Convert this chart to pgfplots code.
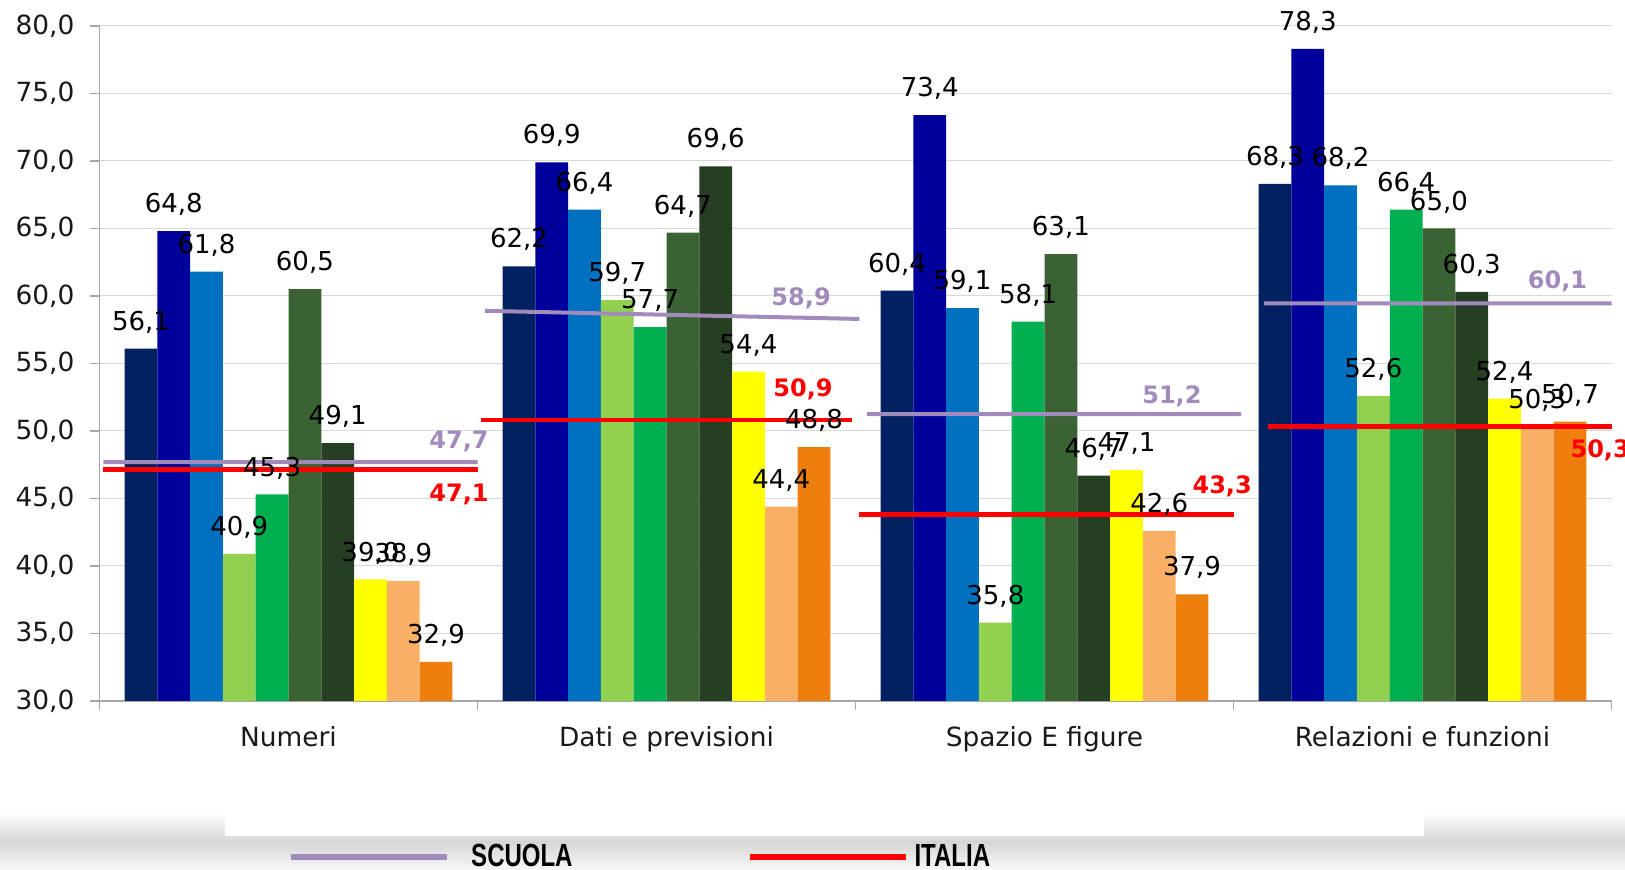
\documentclass[border=0pt]{standalone}
\usepackage{pgfplots}
\pgfplotsset{compat=1.18}
\usepackage{pgfplotstable}
\usepackage{fontspec}
\setmainfont{DejaVu Sans}
\newfontfamily\legfont[FakeStretch=0.75]{Liberation Sans}
\definecolor{c0}{HTML}{032060}
\definecolor{c1}{HTML}{00009A}
\definecolor{c2}{HTML}{0070C0}
\definecolor{c3}{HTML}{92D050}
\definecolor{c4}{HTML}{00B050}
\definecolor{c5}{HTML}{3B6232}
\definecolor{c6}{HTML}{263F22}
\definecolor{c7}{HTML}{FFFF00}
\definecolor{c8}{HTML}{F9B065}
\definecolor{c9}{HTML}{EE7E0E}
\definecolor{purp}{HTML}{A18BBC}
\definecolor{ired}{HTML}{FF0000}

\pgfplotstableread{
x c0 c1 c2 c3 c4 c5 c6 c7 c8 c9
0 56.1 64.8 61.8 40.9 45.3 60.5 49.1 39.0 38.9 32.9
1 62.2 69.9 66.4 59.7 57.7 64.7 69.6 54.4 44.4 48.8
2 60.4 73.4 59.1 35.8 58.1 63.1 46.7 47.1 42.6 37.9
3 68.3 78.3 68.2 52.6 66.4 65.0 60.3 52.4 50.3 50.7
}\bars

\pgfplotstableread{
x y
-0.49 47.7
0.50 47.7
0.51 nan
0.52 58.9
1.51 58.3
1.52 nan
1.53 51.25
2.52 51.25
2.55 nan
2.58 59.45
3.50 59.45
}\scuola

\pgfplotstableread{
x y
-0.49 47.15
0.50 47.15
0.505 nan
0.51 50.8
1.49 50.8
1.50 nan
1.51 43.8
2.50 43.8
2.55 nan
2.59 50.35
3.50 50.35
}\italia

\pgfplotstableread{
x y label
0.451 49.2 47,7
1.356 59.8 58,9
2.337 52.6 51,2
3.357 61.1 60,1
}\scuolalab

\pgfplotstableread{
x y label
0.451 45.3 47,1
1.361 53.1 50,9
2.470 45.9 43,3
3.470 48.6 50,3
}\italialab

\begin{document}
\begin{tikzpicture}
% slide background band
\shade[top color=white, bottom color=black!16] (-49.75pt,-70.5pt) rectangle (762.75pt,-55.5pt);
\shade[top color=black!16, bottom color=black!3] (-49.75pt,-84.5pt) rectangle (762.75pt,-70.5pt);
\fill[white] (62.75pt,-67.5pt) rectangle (662.25pt,-40pt);
\begin{axis}[
  at={(0pt,0pt)}, anchor=south west,
  scale only axis, width=756pt, height=337.5pt,
  xmin=-0.5, xmax=3.5, ymin=30, ymax=80,
  clip=false,
  unbounded coords=jump,
  axis x line*=bottom, axis y line*=left,
  axis line style={draw=black!35, line width=0.6pt, -},
  ytick={30,35,...,80},
  ymajorgrids, grid style={draw=black!15, line width=0.5pt},
  xtick={-0.5,0.5,1.5,2.5,3.5}, xticklabels={},
  extra x ticks={0,1,2,3},
  extra x tick labels={Numeri, Dati e previsioni, Spazio E figure, Relazioni e funzioni},
  extra x tick style={major tick length=0pt, tick label style={yshift=-9pt, font=\fontsize{13.2}{15}\selectfont}},
  tick align=outside, major tick length=4.5pt,
  tick style={draw=black!35, line width=0.6pt},
  ticklabel style={font=\fontsize{13.2}{15}\selectfont, text=black!90},
  yticklabel style={xshift=-4.5pt},
  /pgf/number format/fixed,
  /pgf/number format/fixed zerofill,
  /pgf/number format/precision=1,
  /pgf/number format/use comma,
  /pgf/number format/assume math mode=true,
  legend style={at={(0.1247,-0.231)}, anchor=west, draw=none, fill=none,
    legend columns=2, inner sep=0pt, nodes={inner sep=0pt},
    font=\legfont\bfseries\fontsize{16}{16}\selectfont,
    /tikz/every odd column/.append style={column sep=3pt},
    /tikz/every even column/.append style={column sep=87pt}},
  legend image code/.code={\draw[#1, line width=3pt] (0pt,0pt) -- (78pt,0pt);},
  barlab/.style={only marks, mark=none, forget plot,
    nodes near coords={\pgfmathprintnumber{\pgfplotspointmeta}},
    every node near coord/.append style={text=black, anchor=south, inner sep=0pt, yshift=7.5pt,
      font=\fontsize{13}{15}\selectfont}},
]
% bars
\addplot[ybar, bar width=0.0867, bar shift=-0.39015, fill=c0, draw=none, forget plot] table[x=x,y=c0]{\bars};
\addplot[ybar, bar width=0.0867, bar shift=-0.30345, fill=c1, draw=none, forget plot] table[x=x,y=c1]{\bars};
\addplot[ybar, bar width=0.0867, bar shift=-0.21675, fill=c2, draw=none, forget plot] table[x=x,y=c2]{\bars};
\addplot[ybar, bar width=0.0867, bar shift=-0.13005, fill=c3, draw=none, forget plot] table[x=x,y=c3]{\bars};
\addplot[ybar, bar width=0.0867, bar shift=-0.04335, fill=c4, draw=none, forget plot] table[x=x,y=c4]{\bars};
\addplot[ybar, bar width=0.0867, bar shift=0.04335, fill=c5, draw=none, forget plot] table[x=x,y=c5]{\bars};
\addplot[ybar, bar width=0.0867, bar shift=0.13005, fill=c6, draw=none, forget plot] table[x=x,y=c6]{\bars};
\addplot[ybar, bar width=0.0867, bar shift=0.21675, fill=c7, draw=none, forget plot] table[x=x,y=c7]{\bars};
\addplot[ybar, bar width=0.0867, bar shift=0.30345, fill=c8, draw=none, forget plot] table[x=x,y=c8]{\bars};
\addplot[ybar, bar width=0.0867, bar shift=0.39015, fill=c9, draw=none, forget plot] table[x=x,y=c9]{\bars};
% value labels on top of all bars
\addplot[barlab] table[x expr=\thisrow{x}-0.39015, y=c0]{\bars};
\addplot[barlab] table[x expr=\thisrow{x}-0.30345, y=c1]{\bars};
\addplot[barlab] table[x expr=\thisrow{x}-0.21675, y=c2]{\bars};
\addplot[barlab] table[x expr=\thisrow{x}-0.13005, y=c3]{\bars};
\addplot[barlab] table[x expr=\thisrow{x}-0.04335, y=c4]{\bars};
\addplot[barlab] table[x expr=\thisrow{x}+0.04335, y=c5]{\bars};
\addplot[barlab] table[x expr=\thisrow{x}+0.13005, y=c6]{\bars};
\addplot[barlab] table[x expr=\thisrow{x}+0.21675, y=c7]{\bars};
\addplot[barlab] table[x expr=\thisrow{x}+0.30345, y=c8]{\bars};
\addplot[barlab] table[x expr=\thisrow{x}+0.39015, y=c9]{\bars};
% reference lines
\addplot[draw=purp, line width=2pt] table[x=x,y=y]{\scuola};
\addlegendentry{\hspace*{7.4pt}SCUOLA}
\addplot[draw=ired, line width=2.3pt] table[x=x,y=y]{\italia};
\addlegendentry{ITALIA}
% line labels
\addplot[only marks, mark=none, forget plot,
  point meta=explicit symbolic, nodes near coords={\pgfplotspointmeta},
  every node near coord/.append style={anchor=center, inner sep=0pt, text=purp,
    font=\bfseries\fontsize{12}{14}\selectfont}] table[x=x,y=y,meta=label]{\scuolalab};
\addplot[only marks, mark=none, forget plot,
  point meta=explicit symbolic, nodes near coords={\pgfplotspointmeta},
  every node near coord/.append style={anchor=center, inner sep=0pt, text=ired,
    font=\bfseries\fontsize{12}{14}\selectfont}] table[x=x,y=y,meta=label]{\italialab};
\end{axis}
\pgfresetboundingbox
\path[use as bounding box] (-49.75pt,-84.5pt) rectangle (762.75pt,350.5pt);
\end{tikzpicture}
\end{document}
